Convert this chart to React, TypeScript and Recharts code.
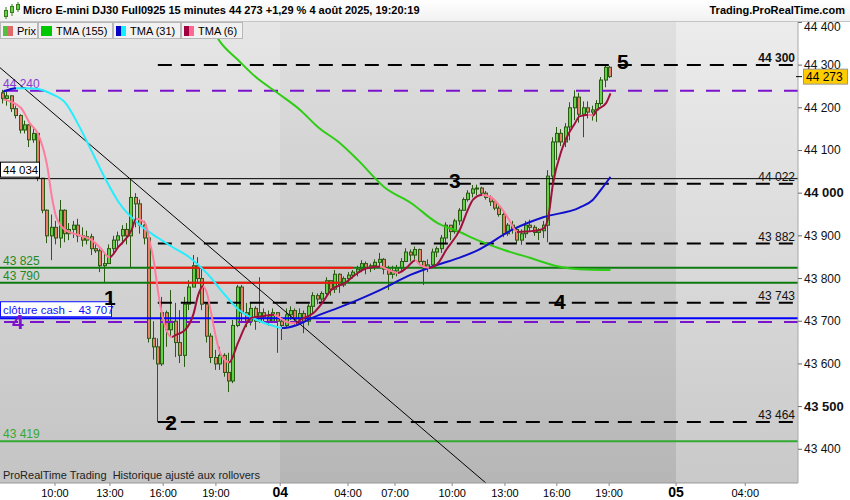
import React from 'react'
import {
  ComposedChart, Bar, Line,
  XAxis, YAxis,
  ReferenceLine, ReferenceDot,
} from 'recharts'

// ─── Data: 15 min bars, Fri 07:00 → Mon 19:15 ─────────────────────

const FIRST_OPEN = 44235

const highs = [
  44242, 44238, 44230, 44205, 44185, 44170, 44162, 44152, 44142, 44036,
  43962, 43950, 43935, 43984, 43962, 43930, 43935, 43940, 43920, 43912,
  43905, 43885, 43870, 43860, 43880, 43900, 43910, 43925, 43930, 44034,
  44000, 43985, 43935, 43910, 43700, 43660, 43757, 43725, 43773, 43743,
  43726, 43757, 43796, 43855, 43850, 43827, 43743, 43672, 43633, 43640,
  43625, 43626, 43703, 43785, 43785, 43743, 43745, 43735, 43803, 43730,
  43725, 43730, 43720, 43710, 43730, 43735, 43730, 43730, 43725, 43740,
  43768, 43765, 43770, 43803, 43795, 43820, 43812, 43805, 43815, 43820,
  43830, 43843, 43840, 43835, 43845, 43860, 43848, 43830, 43830, 43832,
  43848, 43871, 43868, 43875, 43870, 43842, 43845, 43870, 43875, 43902,
  43932, 43925, 43940, 43965, 43990, 44007, 44019, 44020, 44015, 44005,
  43995, 43985, 43970, 43955, 43930, 43935, 43918, 43915, 43935, 43938,
  43925, 43918, 43935, 44054, 44131, 44155, 44150, 44164, 44213, 44241,
  44235, 44215, 44215, 44205, 44218, 44272, 44300, 44298,
]

const lows = [
  44210, 44205, 44190, 44175, 44140, 44140, 44108, 44118, 44028, 43953,
  43883, 43843, 43880, 43872, 43885, 43890, 43895, 43885, 43875, 43880,
  43855, 43860, 43815, 43790, 43835, 43860, 43870, 43880, 43880, 43825,
  43920, 43905, 43880, 43650, 43610, 43464, 43595, 43640, 43663, 43616,
  43602, 43593, 43726, 43790, 43790, 43726, 43650, 43602, 43586, 43586,
  43570, 43534, 43555, 43686, 43700, 43686, 43690, 43680, 43696, 43700,
  43690, 43700, 43626, 43656, 43686, 43703, 43690, 43700, 43672, 43690,
  43719, 43740, 43745, 43761, 43760, 43766, 43766, 43780, 43790, 43800,
  43805, 43815, 43810, 43815, 43820, 43827, 43810, 43773, 43800, 43805,
  43815, 43839, 43840, 43845, 43832, 43785, 43815, 43827, 43850, 43860,
  43880, 43890, 43905, 43925, 43960, 43980, 43990, 43995, 43995, 43985,
  43970, 43960, 43945, 43897, 43900, 43905, 43883, 43879, 43895, 43910,
  43900, 43890, 43895, 43885, 44023, 44078, 44110, 44108, 44124, 44171,
  44165, 44131, 44175, 44170, 44167, 44205, 44248, 44270,
]

const closes = [
  44222, 44228, 44198, 44182, 44148, 44160, 44125, 44140, 44035, 43960,
  43900, 43920, 43895, 43960, 43905, 43915, 43925, 43900, 43890, 43898,
  43870, 43865, 43830, 43835, 43870, 43890, 43900, 43915, 43900, 43990,
  43975, 43925, 43895, 43660, 43640, 43600, 43720, 43680, 43700, 43650,
  43620, 43740, 43780, 43830, 43800, 43740, 43665, 43615, 43600, 43620,
  43580, 43560, 43690, 43780, 43720, 43700, 43730, 43700, 43720, 43710,
  43700, 43720, 43700, 43690, 43715, 43725, 43705, 43718, 43700, 43735,
  43760, 43752, 43765, 43795, 43775, 43810, 43785, 43800, 43808, 43815,
  43822, 43835, 43825, 43830, 43838, 43845, 43822, 43810, 43818, 43825,
  43840, 43862, 43855, 43868, 43840, 43825, 43832, 43862, 43870, 43895,
  43925, 43910, 43935, 43960, 43985, 44000, 44010, 44012, 44000, 43990,
  43980, 43965, 43950, 43905, 43925, 43915, 43890, 43905, 43925, 43920,
  43908, 43912, 43925, 44040, 44120, 44140, 44120, 44155, 44200, 44225,
  44185, 44200, 44190, 44195, 44210, 44265, 44295, 44273,
]

// moving averages as [bar index, value]
const tma155 = [
  [40, 44520], [46, 44405], [49, 44354], [53, 44312], [57, 44272], [62, 44234],
  [67, 44195], [71, 44155], [76, 44117], [80, 44078], [86, 44014], [92, 43977],
  [98, 43930], [103, 43909], [107, 43890], [113, 43867], [119, 43848], [125, 43829],
  [130, 43822], [137, 43820],
]

const tma31 = [
  [0, 44238], [3, 44246], [7, 44245], [11, 44232], [14, 44212], [17, 44160],
  [20, 44098], [23, 44035], [26, 43980], [31, 43924], [35, 43895], [38, 43875],
  [42, 43850], [46, 43812], [50, 43762], [53, 43728], [57, 43704], [61, 43689],
  [63, 43684], [66, 43690], [70, 43709], [77, 43737], [85, 43773], [92, 43809],
  [98, 43832], [103, 43849], [107, 43866], [115, 43915], [122, 43944], [130, 43966],
  [133, 43984], [135, 44010], [137, 44038],
]

const tma6 = [
  [0, 44220], [4, 44200], [6, 44164], [8, 44136], [10, 44061], [11, 43991],
  [12, 43944], [14, 43914], [17, 43902], [20, 43890], [22, 43871], [24, 43850],
  [26, 43874], [29, 43914], [30, 43940], [32, 43930], [33, 43890], [34, 43840],
  [35, 43766], [36, 43710], [38, 43663], [39, 43668], [41, 43679], [43, 43719],
  [44, 43761], [45, 43782], [46, 43765], [47, 43715], [48, 43663], [49, 43625],
  [51, 43604], [53, 43650], [55, 43696], [56, 43708], [58, 43711], [61, 43715],
  [64, 43698], [66, 43695], [67, 43703], [70, 43719], [72, 43743], [74, 43773],
  [77, 43789], [80, 43813], [82, 43824], [85, 43828], [87, 43820], [89, 43813],
  [91, 43825], [93, 43843], [94, 43832], [96, 43825], [98, 43835], [100, 43868],
  [103, 43914], [105, 43965], [106, 43985], [108, 43996], [110, 43991], [112, 43970],
  [114, 43940], [116, 43909], [118, 43910], [121, 43914], [122, 43918], [123, 43945],
  [124, 44020], [126, 44101], [127, 44128], [129, 44164], [130, 44180], [132, 44184],
  [133, 44182], [134, 44195], [136, 44211], [137, 44234],
]

const timeTicks = [12.4, 24.8, 36.8, 48.7, 63.2, 78.5, 89.1, 102, 113.9, 125.6, 137.4, 152.5, 168.1]
const timeLabels = ['10:00', '13:00', '16:00', '19:00', '04', '04:00', '07:00', '10:00', '13:00', '16:00', '19:00', '05', '04:00']
const priceTicks = [43400, 43500, 43600, 43700, 43800, 43900, 44000, 44100, 44200, 44300, 44400]

const LAST_PRICE = 44273
const SUPPORT_LEVELS = [44300, 44022, 43882, 43743, 43464]

// annotations: label, bar slot, price
const markers: Array<[string, number, number]> = [
  ['1', 24.8, 43754], ['2', 38.6, 43462], ['3', 102.6, 44028], ['4', 126.3, 43745], ['5', 140.5, 44307],
]

// ─── Layout / colours ───────────────────────────────────────────

const W = 850
const H = 500
const PLOT_TOP = 22
const AXIS_W = 52
const AXIS_H = 17
const PLOT_W = W - AXIS_W
const X_MAX = 180
const BAR_OFFSET = 0.7
const Y_DOMAIN: [number, number] = [43321, 44401]

const WICK = '#2b5a12'
const UP = '#62d249'
const DOWN = '#e8806c'
const PURPLE = '#7b12cc'
const DARK_GREEN = '#0c7a0c'

const candles = closes.map((c, i) => ({
  x: i + BAR_OFFSET,
  open: i === 0 ? FIRST_OPEN : closes[i - 1],
  high: highs[i],
  low: lows[i],
  close: c,
  range: [lows[i], highs[i]],
}))

const toLine = (pts: number[][]) => pts.map(([i, v]) => ({ x: i + BAR_OFFSET, v }))
const ma155Data = toLine(tma155)
const ma31Data = toLine(tma31)
const ma6Data = toLine(tma6)

// colour stops: rising vs falling
function dirStops(pts: { x: number; v: number }[], up: string, down: string) {
  const out: { off: number; c: string }[] = []
  for (let k = 0; k < pts.length - 1; k++) {
    const c = pts[k + 1].v >= pts[k].v ? up : down
    out.push({ off: pts[k].x / X_MAX, c }, { off: pts[k + 1].x / X_MAX, c })
  }
  return out
}

const fmt = (v: number) => `${Math.floor(v / 1000)} ${String(v % 1000).padStart(3, '0')}`

// ─── Shapes ─────────────────────────────────────────────────────

function Candle(props: any) {
  const { x, y, width, height, payload } = props
  if (!payload || x == null) return null
  const top = Math.min(y, y + height)
  const h = Math.abs(height)
  const { open, close, high, low } = payload
  const toPx = (v: number) => top + ((high - v) / (high - low)) * h
  const c = Math.round(x + width / 2)
  const o = toPx(open)
  const cl = toPx(close)
  const bTop = Math.min(o, cl)
  const bH = Math.max(Math.abs(o - cl), 1)
  return (
    <g>
      <line x1={c - 0.5} x2={c - 0.5} y1={top} y2={top + h} stroke={WICK} strokeWidth={1} />
      <rect x={c - 1.5} y={bTop} width={3} height={bH} fill={close >= open ? UP : DOWN} stroke={WICK} strokeWidth={1} />
    </g>
  )
}

function TimeTick({ x, y, payload }: any) {
  const idx = timeTicks.findIndex((t) => Math.abs(t - payload.value) < 0.01)
  const label = idx >= 0 ? timeLabels[idx] : ''
  const bold = label.length === 2
  return (
    <text x={x} y={y + 9} textAnchor="middle" fontSize={bold ? 14 : 11} fontWeight={bold ? 700 : 400} fill="#000">
      {label}
    </text>
  )
}

function PriceTick({ x, y, payload }: any) {
  const v = payload.value
  const bold = v % 500 === 0
  const dy = v === 44400 ? 9 : 4
  return (
    <text x={x} y={y + dy} fontSize={bold ? 13 : 12} fontWeight={bold ? 700 : 400} fill="#111">
      {fmt(v)}
    </text>
  )
}

const rightTag = (text: string, bold = false) => (p: any) => {
  const vb = p.viewBox
  return (
    <text x={vb.x + vb.width - 3} y={vb.y - 3} textAnchor="end" fontSize={12} fontWeight={bold ? 700 : 400} fill="#111">
      {text}
    </text>
  )
}

const leftText = (text: string, color: string) => (p: any) => (
  <text x={p.viewBox.x + 3} y={p.viewBox.y - 3} fontSize={12} fill={color}>{text}</text>
)

const leftBox = (text: string, color: string, w: number) => (p: any) => {
  const { x, y } = p.viewBox
  return (
    <g>
      <rect x={x + 0.5} y={y - 16.5} width={w} height={15} fill="#fff" stroke={color} />
      <text x={x + 3} y={y - 4.5} fontSize={11.5} fill={color} style={{ whiteSpace: 'pre' }}>{text}</text>
    </g>
  )
}

const markerShape = (text: string, color: string) => (p: any) => (
  <text x={p.cx} y={p.cy + 7} textAnchor="middle" fontSize={21} fontWeight={700} fill={color}>{text}</text>
)

function PriceTag(p: any) {
  return (
    <g>
      <line x1={p.cx - 2} x2={p.cx + 4} y1={p.cy} y2={p.cy} stroke="#000" />
      <rect x={p.cx + 5.5} y={p.cy - 7.5} width={44} height={15} fill="#ffcc00" stroke="#999" />
      <text x={p.cx + 8} y={p.cy + 4.5} fontSize={12} fill="#000">{fmt(LAST_PRICE)}</text>
    </g>
  )
}

function Grad({ id, stops }: { id: string; stops: { off: number; c: string }[] }) {
  return (
    <linearGradient id={id} gradientUnits="userSpaceOnUse" x1={0} y1={0} x2={PLOT_W} y2={0}>
      {stops.map((s, i) => (
        <stop key={i} offset={s.off} stopColor={s.c} />
      ))}
    </linearGradient>
  )
}

// ─── Header pieces ──────────────────────────────────────────────

function LegendButton({ left, width, swatches, label }: { left: number; width: number; swatches: string[]; label: string }) {
  return (
    <div style={{
      position: 'absolute', left, top: 22, width, height: 17, boxSizing: 'border-box',
      background: '#f1f1f1', border: '1px solid #b8b8b8', display: 'flex', alignItems: 'center',
      paddingLeft: 2, fontSize: 11, color: '#000',
    }}>
      {swatches.map((c, i) => (
        <span key={i} style={{ display: 'inline-block', width: swatches.length > 1 ? 5 : 11, height: 10, background: c }} />
      ))}
      <span style={{ marginLeft: 4 }}>{label}</span>
    </div>
  )
}

const bgBand = (left: number, width: number, top: string, bottom: string) => (
  <div style={{
    position: 'absolute', left, top: PLOT_TOP, width, height: H - AXIS_H - PLOT_TOP,
    background: `linear-gradient(${top}, ${bottom})`,
  }} />
)

// ─── Main ───────────────────────────────────────────────────────

export default function App() {
  const s31 = dirStops(ma31Data, '#1010cc', '#22eeff')
  const s6 = dirStops(ma6Data, '#a0103c', '#ff7c9c')

  return (
    <div style={{
      position: 'fixed', left: 0, top: 0, width: W, height: H, overflow: 'hidden',
      background: '#fff', fontFamily: '"Liberation Sans", Arial, sans-serif',
    }}>
      {bgBand(0, 280, '#e6e6e6', '#c4c4c4')}
      {bgBand(280, 396, '#e0e0e0', '#b6b6b6')}
      {bgBand(676, PLOT_W - 676, '#ececec', '#c9c9c9')}

      <div style={{ position: 'absolute', left: 0, top: 0 }}>
        <ComposedChart width={W} height={H} data={candles} margin={{ top: PLOT_TOP, right: 0, bottom: 0, left: 0 }}>
          <defs>
            <Grad id="g31" stops={s31} />
            <Grad id="g6" stops={s6} />
          </defs>
          <XAxis
            type="number"
            dataKey="x"
            domain={[0, X_MAX]}
            allowDataOverflow
            ticks={timeTicks}
            tick={<TimeTick />}
            tickSize={3}
            tickLine={{ stroke: '#888' }}
            axisLine={{ stroke: '#999' }}
            height={AXIS_H}
            interval={0}
          />
          <YAxis
            orientation="right"
            domain={Y_DOMAIN}
            allowDataOverflow
            ticks={priceTicks}
            tick={<PriceTick />}
            tickSize={4}
            tickMargin={2}
            tickLine={{ stroke: '#666' }}
            axisLine={{ stroke: '#a8a8a8' }}
            width={AXIS_W}
            interval={0}
          />

          {/* horizontal levels */}
          <ReferenceLine y={44240} stroke={PURPLE} strokeWidth={2} strokeDasharray="14 12" label={leftText('44 240', '#8a3ad0')} />
          <ReferenceLine y={43698} stroke={PURPLE} strokeWidth={2} strokeDasharray="14 12" />
          <ReferenceLine y={44034} stroke="#000" strokeWidth={1} label={leftBox('44 034', '#000', 39)} />
          <ReferenceLine y={43825} stroke={DARK_GREEN} strokeWidth={2} label={leftText('43 825', '#1e8a1e')} />
          <ReferenceLine y={43790} stroke={DARK_GREEN} strokeWidth={2} label={leftText('43 790', '#1e8a1e')} />
          <ReferenceLine segment={[{ x: 33.8, y: 43825 }, { x: 79.6, y: 43825 }]} stroke="#ff1010" strokeWidth={2} />
          <ReferenceLine segment={[{ x: 33.8, y: 43790 }, { x: 76.7, y: 43790 }]} stroke="#ff1010" strokeWidth={2} />
          <ReferenceLine y={43419} stroke="#33aa33" strokeWidth={2} label={leftText('43 419', '#33aa33')} />
          {SUPPORT_LEVELS.map((lv, i) => (
            <ReferenceLine
              key={lv}
              segment={[{ x: 35.6, y: lv }, { x: X_MAX, y: lv }]}
              stroke="#000"
              strokeWidth={2}
              strokeDasharray="14 9"
              label={rightTag(fmt(lv), i === 0)}
            />
          ))}
          <ReferenceLine y={43707} stroke="#0000ff" strokeWidth={2} label={leftBox('clôture cash -  43 707', '#1010ff', 111)} />
          <ReferenceLine segment={[{ x: 0, y: 44294 }, { x: 109.6, y: 43321 }]} stroke="#000" strokeWidth={1} />

          <Bar dataKey="range" barSize={4} shape={<Candle />} isAnimationActive={false} />

          <Line data={ma155Data} dataKey="v" type="monotone" stroke="#2ecc14" strokeWidth={2} dot={false} isAnimationActive={false} />
          <Line data={ma31Data} dataKey="v" type="monotone" stroke="url(#g31)" strokeWidth={2} dot={false} isAnimationActive={false} />
          <Line data={ma6Data} dataKey="v" type="monotone" stroke="url(#g6)" strokeWidth={2} dot={false} isAnimationActive={false} />

          {markers.map(([t, x, y]) => (
            <ReferenceDot key={t} x={x} y={y} r={0} ifOverflow="visible" shape={markerShape(t, '#000')} />
          ))}
          <ReferenceDot x={4} y={43698} r={0} ifOverflow="visible" shape={markerShape('4', PURPLE)} />
          <ReferenceDot x={X_MAX} y={LAST_PRICE} r={0} ifOverflow="visible" shape={<PriceTag />} />
        </ComposedChart>
      </div>

      {/* title bar */}
      <div style={{
        position: 'absolute', left: 0, top: 0, width: W, height: 21,
        background: 'linear-gradient(#ffffff, #f1f1f1)', borderBottom: '1px solid #c4c4c4',
      }}>
        <svg width={18} height={20} style={{ position: 'absolute', left: 3, top: 1 }}>
          <line x1={3} x2={3} y1={6} y2={18} stroke="#3a7a1a" />
          <rect x={1.5} y={9.5} width={3} height={6} fill={UP} stroke="#3a7a1a" />
          <line x1={9} x2={9} y1={3} y2={15} stroke="#3a7a1a" />
          <rect x={7.5} y={5.5} width={3} height={6} fill={UP} stroke="#3a7a1a" />
          <line x1={15} x2={15} y1={1} y2={11} stroke="#3a7a1a" />
          <rect x={13.5} y={3.5} width={3} height={5} fill={UP} stroke="#3a7a1a" />
        </svg>
        <div style={{ position: 'absolute', left: 23, top: 4, fontSize: 11, fontWeight: 700, whiteSpace: 'nowrap' }}>
          Micro E-mini DJ30 Full0925 15 minutes 44 273 +1,29 % 4 août 2025, 19:20:19
        </div>
        <div style={{ position: 'absolute', right: 5, top: 4, fontSize: 11, fontWeight: 700 }}>
          Trading.ProRealTime.com
        </div>
      </div>

      {/* series legend */}
      <LegendButton left={0} width={38} swatches={['#55c040', '#e06a6a']} label="Prix" />
      <LegendButton left={38} width={75} swatches={['#00c800']} label="TMA (155)" />
      <LegendButton left={113} width={68} swatches={['#0000c8', '#10f0ff']} label="TMA (31)" />
      <LegendButton left={181} width={62} swatches={['#a00040', '#ff6890']} label="TMA (6)" />

      <div style={{ position: 'absolute', left: 3, top: 469, fontSize: 11, color: '#222', whiteSpace: 'pre' }}>
        ProRealTime Trading  Historique ajusté aux rollovers
      </div>
    </div>
  )
}
